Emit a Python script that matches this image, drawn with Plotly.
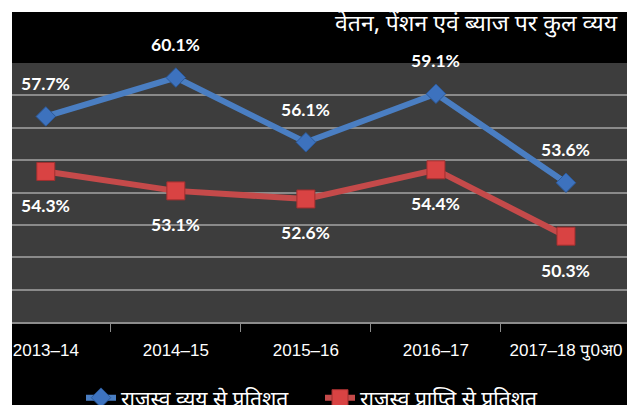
import plotly.graph_objects as go

categories = ["2013\u201314", "2014\u201315", "2015\u201316", "2016\u201317", "2017\u201318 पु0अ0"]
series1_name = "राजस्व व्यय से प्रतिशत"
series1_values = [57.7, 60.1, 56.1, 59.1, 53.6]
series2_name = "राजस्व प्राप्ति से प्रतिशत"
series2_values = [54.3, 53.1, 52.6, 54.4, 50.3]
title_text = "वेतन, पेंशन एवं ब्याज पर कुल व्यय"

# The page body has an 8px margin, so the figure is drawn 8px right/down of the window corner.
OFF = 8
W, H = 635 - OFF, 405 - OFF
ml, mr, mt, mb = 12 - OFF, 4, 63 - OFF, 83
pw, ph = W - ml - mr, H - mt - mb

def px_to_paper_x(px):  # px = screen pixel
    return (px - OFF - ml) / pw

def px_to_paper_y(py):
    return (H - mb - (py - OFF)) / ph

dev_font = "Noto Sans Devanagari, Noto Sans, Lohit Devanagari, sans-serif"
lab_font = "Lato, Open Sans, sans-serif"

fig = go.Figure()
fig.add_trace(go.Scatter(
    x=categories, y=series1_values, name=series1_name, mode="lines+markers",
    line=dict(color="#4a7ec2", width=6),
    marker=dict(symbol="diamond", size=15, color="#3d72be", line=dict(color="#2c5a9a", width=1)),
))
fig.add_trace(go.Scatter(
    x=categories, y=series2_values, name=series2_name, mode="lines+markers",
    line=dict(color="#c54a4a", width=6),
    marker=dict(symbol="square", size=18, color="#d94343", line=dict(color="#a02f2f", width=1)),
))

for c, v in zip(categories, series1_values):
    fig.add_annotation(x=c, y=v, text=f"{v}%", showarrow=False, yshift=33,
                       font=dict(family=lab_font, size=17.5, color="white", weight="bold"))
for c, v in zip(categories, series2_values):
    fig.add_annotation(x=c, y=v, text=f"{v}%", showarrow=False, yshift=-34,
                       font=dict(family=lab_font, size=17.5, color="white", weight="bold"))

fig.add_annotation(xref="paper", yref="paper", x=px_to_paper_x(333), y=px_to_paper_y(25),
                   xanchor="left", yanchor="middle", text=title_text, showarrow=False,
                   font=dict(family=dev_font, size=23, color="white"))

# white strips at top and left of the image
fig.add_shape(type="rect", xref="paper", yref="paper", layer="below",
              x0=px_to_paper_x(-5), x1=px_to_paper_x(12), y0=px_to_paper_y(410), y1=px_to_paper_y(-5),
              fillcolor="white", line=dict(width=0))
fig.add_shape(type="rect", xref="paper", yref="paper", layer="below",
              x0=px_to_paper_x(-5), x1=px_to_paper_x(640), y0=px_to_paper_y(12), y1=px_to_paper_y(-5),
              fillcolor="white", line=dict(width=0))

fig.update_layout(
    width=W, height=H,
    margin=dict(l=ml, r=mr, t=mt, b=mb, autoexpand=False),
    paper_bgcolor="black", plot_bgcolor="#3d3d3d",
    showlegend=True,
    legend=dict(orientation="h", x=px_to_paper_x(81), xanchor="left", y=px_to_paper_y(398), yanchor="middle",
                font=dict(family=dev_font, size=21, color="white"), bgcolor="rgba(0,0,0,0)",
                itemwidth=30, tracegroupgap=0, entrywidth=194, entrywidthmode="pixels"),
)
fig.update_xaxes(
    type="category", range=[-0.26, 4.5], tickson="boundaries",
    ticks="outside", ticklen=8, tickcolor="#8c8c8c", tickwidth=1,
    showline=True, linecolor="#8c8c8c", linewidth=2, showgrid=False,
    tickfont=dict(family="Liberation Sans Narrow, Arial Narrow, Liberation Sans, sans-serif", size=17, color="white"),
    ticklabelstandoff=12,
)
fig.update_yaxes(
    range=[45, 61], tick0=45, dtick=2, showticklabels=False,
    showgrid=True, gridcolor="#8a8a8a", gridwidth=1.5, zeroline=False,
    showline=False,
)

fig.write_html("out.html")
